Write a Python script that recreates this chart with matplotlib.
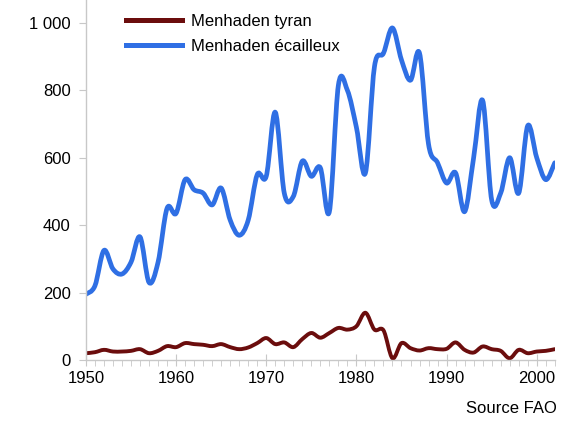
import numpy as np
import matplotlib.pyplot as plt
from matplotlib.path import Path
from matplotlib.patches import PathPatch
from matplotlib.lines import Line2D
from matplotlib.ticker import MultipleLocator, FuncFormatter

plt.rcParams['font.family'] = ['Liberation Sans', 'DejaVu Sans']

years = list(range(1950, 2003))

# Menhaden tyran (milliers de tonnes)
tyran = [20, 23, 30, 25, 25, 27, 32, 20, 27, 41,
         38, 50, 47, 45, 41, 47, 38, 32, 37, 50,
         65, 47, 52, 38, 62, 80, 66, 80, 95, 90,
         100, 140, 90, 88, 5, 50, 35, 28, 35, 32,
         33, 52, 30, 22, 40, 32, 27, 5, 30, 20,
         25, 27, 32]

# Menhaden ecailleux
ecailleux = [195, 220, 325, 270, 255, 290, 365, 230, 290, 450,
             435, 535, 505, 495, 460, 510, 415, 370, 415, 550,
             545, 735, 495, 485, 590, 545, 570, 440, 815, 800,
             690, 555, 870, 910, 985, 890, 830, 910, 640, 585,
             525, 555, 440, 600, 770, 475, 495, 600, 495, 695,
             600, 535, 585]

legend_labels = ['Menhaden tyran', 'Menhaden écailleux']
col_tyran = '#6b0d0d'
col_ecaille = '#2f6fe4'


def smooth_path(x, y):
    # courbe lissee type tableur (Catmull-Rom en segments de Bezier)
    pts = np.column_stack([x, y]).astype(float)
    n = len(pts)
    verts = [pts[0]]
    codes = [Path.MOVETO]
    for i in range(n - 1):
        p0 = pts[max(i - 1, 0)]
        p1 = pts[i]
        p2 = pts[i + 1]
        p3 = pts[min(i + 2, n - 1)]
        verts += [p1 + (p2 - p0) / 6.0, p2 - (p3 - p1) / 6.0, p2]
        codes += [Path.CURVE4] * 3
    return Path(verts, codes)


fig = plt.figure(figsize=(5.69, 4.21), dpi=100)
ax = fig.add_axes([0.151, 0.145, 0.824, 0.855])

ax.add_patch(PathPatch(smooth_path(years, ecailleux), fill=False,
                       edgecolor=col_ecaille, lw=3.4, capstyle='round', joinstyle='round'))
ax.add_patch(PathPatch(smooth_path(years, tyran), fill=False,
                       edgecolor=col_tyran, lw=2.8, capstyle='round', joinstyle='round'))

ax.set_xlim(1950, 2002)
ax.set_ylim(0, 1068)

for s in ['top', 'right']:
    ax.spines[s].set_visible(False)
for s in ['left', 'bottom']:
    ax.spines[s].set_color('#c8c8c8')
    ax.spines[s].set_linewidth(1.0)

ax.xaxis.set_major_locator(MultipleLocator(10))
ax.xaxis.set_minor_locator(MultipleLocator(1))
ax.yaxis.set_major_locator(MultipleLocator(200))
ax.yaxis.set_major_formatter(FuncFormatter(lambda v, p: '{:,.0f}'.format(v).replace(',', ' ')))

ax.tick_params(axis='x', which='major', direction='inout', length=8, color='#c8c8c8',
               labelsize=12, pad=4)
ax.tick_params(axis='x', which='minor', direction='out', length=4, color='#c8c8c8')
ax.tick_params(axis='y', which='major', direction='out', length=5, color='#c8c8c8',
               labelsize=12, pad=6)

handles = [Line2D([], [], color=col_tyran, lw=3.6),
           Line2D([], [], color=col_ecaille, lw=3.6)]
ax.legend(handles, legend_labels, loc='upper left', bbox_to_anchor=(0.053, 1.003),
          frameon=False, fontsize=12, handlelength=3.4, handletextpad=0.5,
          labelspacing=0.62)

fig.text(0.978, 0.012, 'Source FAO', ha='right', va='bottom', fontsize=12)

fig.savefig('out.png', dpi=100)
